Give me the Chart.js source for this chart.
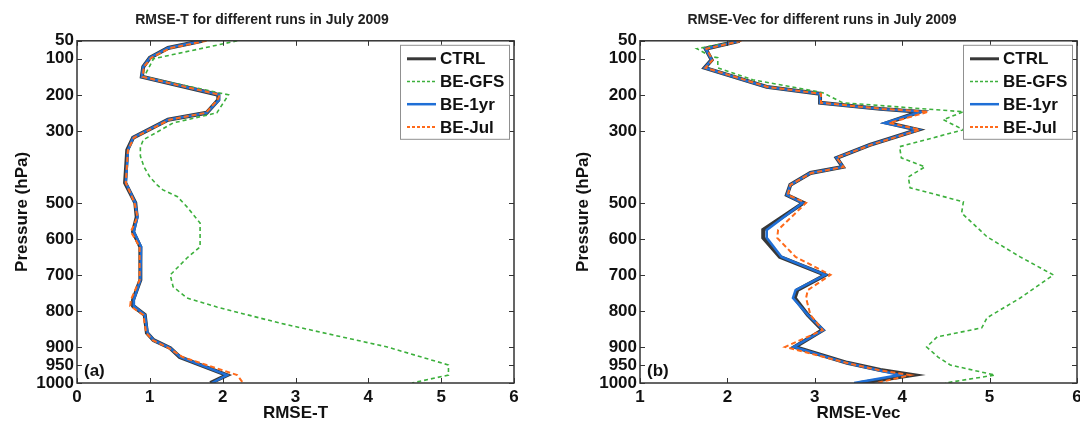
<!DOCTYPE html>
<html>
<head>
<meta charset="utf-8">
<script src="https://cdn.jsdelivr.net/npm/chart.js@4.4.1/dist/chart.umd.min.js"></script>
<style>
  body { margin: 0; width: 1080px; height: 427px; overflow: hidden; background: #fff; position: relative; }
  canvas { position: absolute; top: 0; }
  #chartT { left: 0; }
  #chartVec { left: 540px; }
</style>
</head>
<body>
<canvas id="chartT" width="524" height="427"></canvas>
<canvas id="chartVec" width="550" height="427"></canvas>
<script>
// pressure axis tick labels (hPa)
const pressureTicks = [50, 100, 200, 300, 500, 600, 700, 800, 900, 950, 1000];
const seriesNames = ['CTRL', 'BE-GFS', 'BE-1yr', 'BE-Jul'];

// panel (a) RMSE-T
const levelsT = [50, 70, 97, 122, 150, 200, 214, 250, 269, 319, 353, 444, 500, 539, 580, 622, 714, 769, 786, 811, 861, 881, 903, 928, 978, 1000];
const ctrlT   = [1.72, 1.25, 1.0, 0.91, 0.89, 1.94, 1.94, 1.78, 1.25, 0.77, 0.69, 0.66, 0.80, 0.82, 0.77, 0.87, 0.87, 0.77, 0.77, 0.93, 0.96, 1.05, 1.28, 1.41, 2.06, 1.83];
const oneYrT  = [1.72, 1.25, 1.0, 0.91, 0.89, 1.95, 1.95, 1.78, 1.25, 0.77, 0.70, 0.67, 0.80, 0.83, 0.78, 0.88, 0.87, 0.78, 0.78, 0.93, 0.97, 1.05, 1.28, 1.42, 2.06, 1.85];
const julT    = [1.78, 1.28, 1.02, 0.92, 0.90, 1.96, 1.93, 1.77, 1.27, 0.78, 0.70, 0.67, 0.79, 0.83, 0.74, 0.86, 0.86, 0.74, 0.73, 0.91, 0.95, 1.04, 1.26, 1.45, 2.20, 2.28];
const gfsLevelsT = [50, 89, 100, 150, 200, 250, 278, 325, 345, 370, 400, 428, 450, 464, 483, 511, 556, 622, 653, 700, 733, 764, 789, 834, 900, 950, 978, 1000];
const gfsT       = [2.2, 1.3, 1.05, 0.92, 2.08, 1.92, 1.32, 0.91, 0.87, 0.87, 0.92, 1.0, 1.1, 1.18, 1.38, 1.51, 1.69, 1.69, 1.51, 1.28, 1.32, 1.51, 1.92, 2.79, 4.26, 5.1, 5.1, 4.6];

// panel (b) RMSE-Vec
const levelsVec = [50, 72, 103, 125, 178, 197, 222, 239, 247, 278, 297, 339, 375, 400, 417, 450, 478, 500, 575, 597, 650, 700, 742, 764, 811, 853, 900, 944, 964, 978, 1000];
const ctrlVec   = [2.14, 1.75, 1.82, 1.74, 2.45, 3.06, 3.06, 3.75, 4.20, 3.83, 4.18, 3.63, 3.25, 3.32, 2.95, 2.72, 2.68, 2.87, 2.41, 2.41, 2.60, 3.12, 2.80, 2.77, 2.92, 3.09, 2.77, 3.37, 3.75, 4.12, 3.52];
const oneYrVec  = [2.14, 1.75, 1.82, 1.74, 2.45, 3.06, 3.06, 3.75, 4.22, 3.80, 4.18, 3.63, 3.25, 3.32, 2.95, 2.72, 2.68, 2.86, 2.45, 2.45, 2.62, 3.12, 2.78, 2.75, 2.92, 3.10, 2.76, 3.36, 3.72, 3.97, 3.45];
const julVec    = [2.16, 1.76, 1.83, 1.75, 2.46, 3.07, 3.07, 3.77, 4.30, 3.85, 4.20, 3.64, 3.25, 3.33, 2.96, 2.72, 2.69, 2.90, 2.58, 2.57, 2.78, 3.18, 2.92, 2.90, 2.95, 3.09, 2.66, 3.36, 3.73, 4.09, 3.71];
const gfsLevelsVec = [50, 72, 94, 97, 125, 158, 194, 222, 247, 269, 297, 344, 375, 400, 428, 458, 497, 528, 594, 650, 700, 764, 819, 847, 872, 900, 928, 950, 978, 1000];
const gfsVec       = [2.14, 1.65, 1.82, 1.89, 1.89, 2.29, 3.09, 3.32, 4.70, 4.47, 4.70, 3.97, 3.99, 4.26, 4.07, 4.09, 4.70, 4.68, 4.97, 5.35, 5.73, 5.35, 4.97, 4.91, 4.40, 4.28, 4.41, 4.55, 5.06, 4.49];

const FONT = '"Liberation Sans", Arial, Helvetica, sans-serif';
Chart.defaults.font.family = FONT;

function pts(levels, vals) {
    return vals.map((v, i) => ({ x: v, y: levels[i] }));
}

// line styles for CTRL, BE-GFS, BE-1yr, BE-Jul
const styles = [
    { borderColor: '#383838', borderWidth: 4, borderDash: [], order: 4 },
    { borderColor: '#3cb03c', borderWidth: 1.6, borderDash: [4, 3], order: 3 },
    { borderColor: '#1f6fd6', borderWidth: 2.5, borderDash: [], order: 2 },
    { borderColor: '#ff6a1a', borderWidth: 2, borderDash: [5, 3], order: 1 }
];

// MATLAB-like box, inward ticks, panel tag and legend
const matlabFrame = {
    id: 'matlabFrame',
    afterDatasetsDraw(chart, args, opts) {
        const ctx = chart.ctx;
        const a = chart.chartArea;
        const xs = chart.scales.x, ys = chart.scales.y;
        ctx.save();
        ctx.strokeStyle = '#333';
        ctx.lineWidth = 1.5;
        ctx.strokeRect(a.left, a.top, a.right - a.left, a.bottom - a.top);
        ctx.lineWidth = 1;
        ctx.beginPath();
        xs.ticks.forEach(t => {
            const px = Math.round(xs.getPixelForValue(t.value)) + 0.5;
            ctx.moveTo(px, a.bottom); ctx.lineTo(px, a.bottom - 5);
            ctx.moveTo(px, a.top); ctx.lineTo(px, a.top + 5);
        });
        ys.ticks.forEach(t => {
            const py = Math.round(ys.getPixelForValue(t.value)) + 0.5;
            ctx.moveTo(a.left, py); ctx.lineTo(a.left + 5, py);
            ctx.moveTo(a.right, py); ctx.lineTo(a.right - 5, py);
        });
        ctx.stroke();

        // panel tag
        ctx.fillStyle = '#111';
        ctx.font = 'bold 17px ' + FONT;
        ctx.textBaseline = 'middle';
        ctx.textAlign = 'left';
        ctx.fillText(opts.tag, a.left + 7, a.bottom - 12);

        // legend box
        const bw = 109, bh = 94;
        const bx = a.right - 5 - bw, by = a.top + 4;
        ctx.fillStyle = '#fff';
        ctx.fillRect(bx, by, bw, bh);
        ctx.strokeStyle = '#909090';
        ctx.lineWidth = 1;
        ctx.strokeRect(bx + 0.5, by + 0.5, bw, bh);
        ctx.font = 'bold 17px ' + FONT;
        seriesNames.forEach((name, i) => {
            const st = styles[i];
            const yy = by + 14 + i * 22.7;
            ctx.strokeStyle = st.borderColor;
            ctx.lineWidth = Math.min(st.borderWidth, 3);
            ctx.setLineDash(st.borderDash.length ? [3, 2] : []);
            ctx.beginPath();
            ctx.moveTo(bx + 7, yy); ctx.lineTo(bx + 36, yy);
            ctx.stroke();
            ctx.setLineDash([]);
            ctx.fillStyle = '#111';
            ctx.fillText(name, bx + 40, yy + 1);
        });
        ctx.restore();
    }
};

function makeChart(id, p) {
    const tickFont = { family: FONT, size: 17, weight: 'bold' };
    const datasets = p.series.map((s, i) => Object.assign({
        label: seriesNames[i],
        data: pts(s.levels, s.values),
        showLine: true,
        pointRadius: 0,
        fill: false,
        tension: 0
    }, styles[i]));
    return new Chart(document.getElementById(id), {
        type: 'scatter',
        data: { datasets: datasets },
        options: {
            responsive: false,
            animation: false,
            layout: { padding: { left: p.padLeft, right: p.padRight, top: 0, bottom: 0 } },
            plugins: {
                legend: { display: false },
                tooltip: { enabled: false },
                title: {
                    display: true, text: p.title, color: '#222',
                    font: { family: FONT, size: 14, weight: 'bold' },
                    padding: { top: 12, bottom: 12 }
                },
                matlabFrame: { tag: p.tag }
            },
            scales: {
                x: {
                    type: 'linear', min: p.xMin, max: 6,
                    ticks: { stepSize: 1, font: tickFont, color: '#111', padding: 4 },
                    grid: { display: false, drawTicks: false },
                    border: { display: false },
                    title: { display: true, text: p.xTitle, color: '#111', font: tickFont, padding: { top: 0, bottom: 3 } },
                    afterFit: s => { s.height = 44; }
                },
                y: {
                    type: 'linear', reverse: true, min: 50, max: 1000,
                    afterBuildTicks: s => { s.ticks = pressureTicks.map(v => ({ value: v })); },
                    ticks: { autoSkip: false, font: tickFont, color: '#111', padding: 3, callback: v => String(v) },
                    grid: { display: false, drawTicks: false },
                    border: { display: false },
                    title: { display: true, text: 'Pressure (hPa)', color: '#111', font: tickFont, padding: { top: p.yTitlePad, bottom: 0 } },
                    afterFit: s => { s.width = p.yWidth; }
                }
            }
        },
        plugins: [matlabFrame]
    });
}

makeChart('chartT', {
    title: 'RMSE-T for different runs in July 2009',
    xTitle: 'RMSE-T', tag: '(a)', xMin: 0,
    padLeft: 10, padRight: 10, yWidth: 67, yTitlePad: 2,
    series: [
        { levels: levelsT, values: ctrlT },
        { levels: gfsLevelsT, values: gfsT },
        { levels: levelsT, values: oneYrT },
        { levels: levelsT, values: julT }
    ]
});

makeChart('chartVec', {
    title: 'RMSE-Vec for different runs in July 2009',
    xTitle: 'RMSE-Vec', tag: '(b)', xMin: 1,
    padLeft: 27, padRight: 13, yWidth: 73, yTitlePad: 6,
    series: [
        { levels: levelsVec, values: ctrlVec },
        { levels: gfsLevelsVec, values: gfsVec },
        { levels: levelsVec, values: oneYrVec },
        { levels: levelsVec, values: julVec }
    ]
});
</script>
</body>
</html>
